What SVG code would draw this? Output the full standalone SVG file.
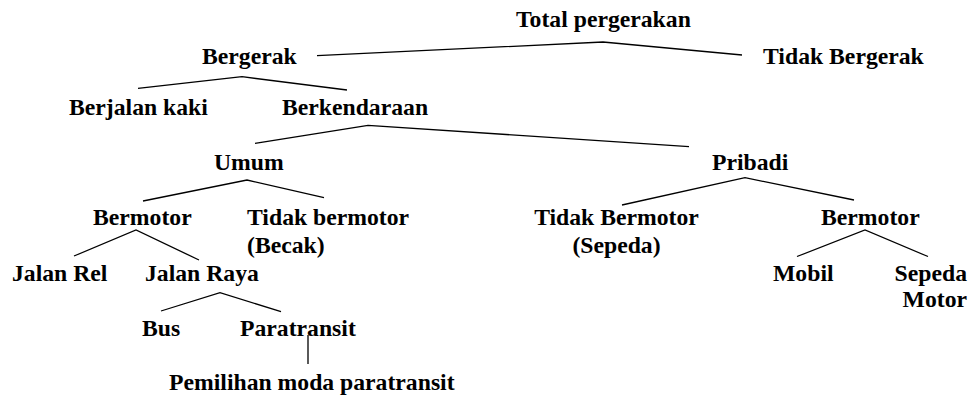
<svg xmlns="http://www.w3.org/2000/svg" width="973" height="396" viewBox="0 0 973 396">
<style>
text{font-weight:700;font-size:23.7px;fill:#000}
.c line,.c polyline{stroke:#000;stroke-width:1.3;fill:none}
</style>
<rect width="973" height="396" fill="#fff"/>
<g class="c" id="connectors">
<polyline points="317,55.7 603,42 742,55"/>
<polyline points="138,88.3 242,76.7 347,90"/>
<polyline points="255,143.3 368,125.3 689,146.7"/>
<polyline points="143,201 247,180 324,197.7"/>
<polyline points="622,205 745,177.7 854,200"/>
<polyline points="74,256 136,230 199,260"/>
<polyline points="797,256.5 865,230 928,256.5"/>
<polyline points="161,311 220,292.7 281,311.7"/>
<line x1="308" y1="335" x2="308" y2="364"/>
</g>
<g font-family="Liberation Serif, Times New Roman, serif" font-weight="bold">
<g id="n-total"><text x="516" y="27">Total pergerakan</text></g>
<g id="n-bergerak"><text x="202" y="64">Bergerak</text></g>
<g id="n-tidakbergerak"><text x="763" y="64">Tidak Bergerak</text></g>
<g id="n-berjalan"><text x="69" y="115">Berjalan kaki</text></g>
<g id="n-berkendaraan"><text x="282" y="115">Berkendaraan</text></g>
<g id="n-umum"><text x="214" y="170">Umum</text></g>
<g id="n-pribadi"><text x="712" y="170">Pribadi</text></g>
<g id="n-bermotor1"><text x="93" y="225">Bermotor</text></g>
<g id="n-tidakbermotor1"><text x="247" y="225">Tidak bermotor</text><text x="247" y="253">(Becak)</text></g>
<g id="n-tidakbermotor2"><text x="616.5" y="225" text-anchor="middle">Tidak Bermotor</text><text x="616.5" y="253" text-anchor="middle">(Sepeda)</text></g>
<g id="n-bermotor2"><text x="821" y="225">Bermotor</text></g>
<g id="n-jalanrel"><text x="12" y="281">Jalan Rel</text></g>
<g id="n-jalanraya"><text x="145" y="281">Jalan Raya</text></g>
<g id="n-mobil"><text x="773" y="281">Mobil</text></g>
<g id="n-sepedamotor"><text x="967" y="281" text-anchor="end">Sepeda</text><text x="967" y="307" text-anchor="end">Motor</text></g>
<g id="n-bus"><text x="142" y="336">Bus</text></g>
<g id="n-paratransit"><text x="240" y="336">Paratransit</text></g>
<g id="n-pemilihan"><text x="169" y="390">Pemilihan moda paratransit</text></g>
</g>
</svg>
